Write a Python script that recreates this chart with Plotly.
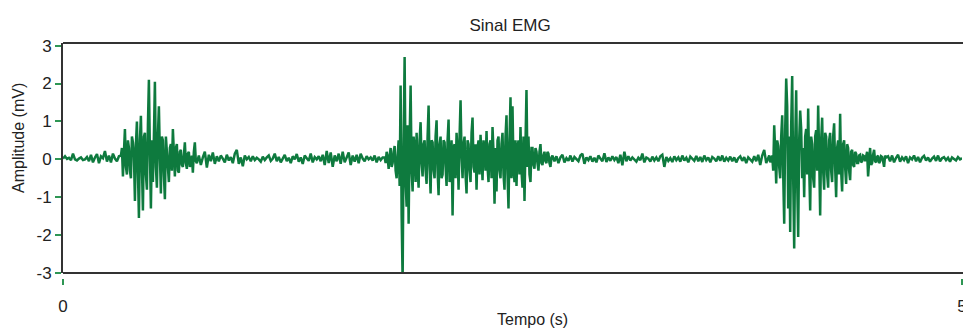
import numpy as np
import plotly.graph_objects as go

FS_REST = 90.0    # samples per second in the resting segments
FS_BURST = 180.0  # samples per second in the bursts

rest1 = [0.02, 0.08, 0.01, 0.04, -0.02, 0.15, 0.0, -0.03, 0.02, 0.05,
         -0.02, 0.0, 0.06, -0.05, 0.12, -0.08, 0.05, 0.14, -0.1, 0.08,
         0.03, 0.22, -0.06, 0.1, -0.08, 0.15, 0.02, -0.05, 0.08]

burst1 = [0.1, 0.3, -0.45, 0.2, 0.8, -0.2, -0.4, 0.5, 0.3, -0.3,
          -0.5, 0.6, 0.45, 0.1, -1.1, 0.4, 1.0, -0.3, -1.55, 0.5,
          1.15, -0.2, -1.35, 0.6, 0.7, -0.4, -0.8, 0.9, 2.1, 0.2,
          -1.3, 0.5, -0.6, 0.6, 2.05, -0.2, -0.75, 0.6, 1.4, 0.1,
          -0.9, 0.6, 0.5, -0.4, -1.05, 0.6, 0.3, -0.2, -0.6, 0.3,
          0.4, -0.3, 0.8, 0.1, -0.45, 0.3, 0.4, -0.3, -0.35, 0.2,
          0.25, -0.15, -0.2, 0.1, 0.45, -0.1, -0.25, 0.15, 0.2, -0.2,
          -0.1, 0.1, -0.35, 0.2, 0.45, -0.05, -0.1]

rest2 = [0.1, -0.15, 0.05, 0.2, -0.22, 0.12, -0.05, 0.18, -0.12, 0.08,
         -0.05, 0.1, 0.02, -0.08, 0.12, -0.03, 0.06, -0.1, 0.15, 0.25,
         -0.12, 0.05, -0.18, 0.1, 0.0, 0.06, -0.05, 0.08, -0.02, 0.04,
         0.0, -0.06, 0.07, -0.02, 0.05, 0.1, -0.04, 0.02, 0.15, -0.05,
         0.06, -0.08, 0.02, 0.12, -0.05, 0.04, -0.1, 0.08, 0.0, 0.14,
         -0.06, 0.05, -0.12, 0.1, 0.03, -0.04, 0.15, -0.08, 0.06, 0.0,
         0.08, -0.05, 0.12, -0.15, 0.22, -0.1, 0.18, -0.2, 0.1, -0.05,
         0.15, -0.12, 0.2, -0.08, 0.05, 0.18, -0.15, 0.1, -0.06, 0.12,
         -0.1, 0.15, 0.02, -0.05, 0.08, 0.0, 0.05, -0.03, 0.1, -0.08,
         0.06, -0.02, 0.05]

burst2 = [0.05, -0.1, 0.2, 0.05, -0.25, 0.1, 0.3, -0.2, -0.1, 0.2,
          0.35, -0.3, -0.5, 0.1, 0.5, -0.7, 1.95, -1.45, -3.2, 0.4,
          2.7, -0.6, -1.25, 0.9, -1.7, 0.5, 1.95, -0.3, -0.85, 0.6,
          0.3, -0.6, 0.7, -0.2, -0.75, 0.5, 0.98, -0.1, -0.45, 0.4,
          0.5, -0.3, -0.65, 0.6, 1.42, -0.2, -0.9, 0.5, 0.45, -0.3,
          -0.5, 0.6, 1.03, -0.3, -0.95, 0.4, 0.6, -0.5, -0.4, 0.5,
          0.45, -0.2, -0.7, 0.5, 1.05, -0.6, -0.3, 0.5, -1.48, 0.3,
          0.4, -0.5, 0.7, 0.2, -0.8, 0.6, 1.56, 0.1, -0.5, 0.4,
          0.6, -0.4, -0.9, 0.5, 0.4, -0.3, -0.6, 0.7, 1.1, -0.2,
          -0.35, 0.4, -0.8, 0.3, 0.5, -0.4, 0.65, 0.1, -0.55, 0.5,
          0.3, -0.3, 0.75, -0.2, -0.6, 0.4, 0.5, -0.5, 0.85, 0.2,
          -1.17, 0.3, -0.85, 0.5, 0.6, -0.3, -0.5, 0.4, 0.7, -0.4,
          -0.8, 0.6, 1.16, -0.4, -1.3, 0.5, 1.64, -0.5, 1.4, -0.2,
          -0.6, 0.5, -0.7, 0.3, 0.5, -0.4, 0.85, -0.3, -0.75, 0.6,
          -1.1, 0.4, 1.83, -0.2, 0.6, -0.4, -0.6, 0.3, 0.3, -0.15,
          -0.25, 0.3, 0.2, -0.1, -0.3, 0.2, 0.4, -0.1, -0.15, 0.1,
          0.2, -0.05, -0.1, 0.2, 0.15, -0.1, -0.2, 0.05, 0.1]

rest3 = [-0.05, 0.08, -0.1, 0.05, 0.12, -0.08, 0.03, -0.04, 0.1, -0.06,
         0.06, 0.0, -0.05, 0.1, 0.15, -0.12, 0.05, -0.02, 0.08, -0.06,
         0.04, -0.08, 0.1, 0.02, -0.05, 0.16, -0.07, 0.05, -0.04, 0.08,
         -0.02, 0.06, -0.1, 0.12, -0.16, 0.2, -0.05, 0.08, -0.03, 0.05,
         0.0, -0.06, 0.04, -0.02, 0.15, -0.08, 0.05, 0.02, -0.06, 0.07,
         -0.03, 0.05, -0.05, 0.08, 0.12, -0.2, 0.06, -0.04, 0.03, -0.07,
         0.08, -0.02, 0.05, -0.06, 0.1, -0.03, 0.04, -0.08, 0.07, 0.0,
         -0.04, 0.09, -0.05, 0.06, -0.07, 0.1, -0.02, 0.05, -0.08, 0.06,
         0.02, -0.05, 0.08, -0.04, 0.1, -0.06, 0.04, -0.03, 0.07, -0.05,
         0.05, -0.08, 0.03, 0.08, -0.04, 0.06, -0.1, 0.05, 0.0, -0.06,
         0.08, -0.05, 0.12, -0.15, 0.1, 0.25, -0.1]

burst3 = [0.05, 0.1, -0.08, 0.05, 0.1, -0.3, 0.9, 0.2, -0.64, 0.5,
          0.35, -0.2, -0.5, 0.6, 1.16, -0.4, -1.7, 0.8, 2.13, 1.4,
          -1.3, 0.6, -1.92, 0.9, 2.2, -0.5, -2.35, 0.4, 1.82, -0.6,
          -2.05, 0.5, 1.29, 0.8, -0.5, 0.3, -1.0, 0.6, 0.8, -0.4,
          1.34, -0.2, -1.35, 0.6, 0.4, -0.5, -0.75, 0.6, 0.77, -0.3,
          1.42, 0.1, -1.48, 0.5, 1.1, -0.3, -0.8, 0.7, 0.6, -0.4,
          -0.75, 0.5, 0.7, -0.3, -0.6, 0.6, 0.95, -0.2, -1.0, 0.3,
          0.5, -0.4, 1.2, -0.3, -0.85, 0.4, 0.5, -0.2, -0.65, 0.4,
          0.3, -0.3, -0.55, 0.2, 0.25, -0.15, -0.2, 0.2, 0.15, -0.1,
          -0.1, 0.1, 0.12, -0.08, -0.05, 0.1, 0.08, -0.05, 0.1, 0.2,
          -0.45, 0.1, 0.3, -0.15, -0.1, 0.12, 0.25, -0.05, -0.08, 0.06,
          0.1, -0.1, -0.05, 0.08, 0.06, -0.05, -0.2, 0.1, 0.05]

rest4 = [0.08, -0.05, 0.1, -0.08, 0.04, 0.12, -0.06, 0.05, -0.02, 0.08,
         -0.1, 0.05, 0.0, 0.1, -0.05, 0.06, -0.08, 0.04, 0.09, -0.03,
         0.05, -0.06, 0.02, 0.07, -0.04, 0.1, -0.05, 0.03, 0.06, -0.02,
         0.04, -0.06, 0.05, 0.02, -0.03, 0.06, 0.0, 0.03]

# segment order with its sampling rate
segments = [(rest1, FS_REST), (burst1, FS_BURST), (rest2, FS_REST),
            (burst2, FS_BURST), (rest3, FS_REST), (burst3, FS_BURST),
            (rest4, FS_REST)]

x_tick_vals = [0, 5]
x_tick_text = ["0", "5"]
y_tick_vals = [-3, -2, -1, 0, 1, 2, 3]
y_tick_text = ["-3", "-2", "-1", "0", "1", "2", "3"]

# sample times: each segment starts one rest-sample after the previous one
tempo, amplitude = [], []
t0 = 0.0
for vals, fs in segments:
    for k, v in enumerate(vals):
        tempo.append(t0 + k / fs)
        amplitude.append(v)
    t0 = tempo[-1] + 1.0 / FS_REST

LINE_GREEN = "rgb(14,122,62)"
TICK_GREEN = "rgb(46,150,84)"
FRAME = "#333333"
TEXT = "#222222"
FONT = "Liberation Sans, Arial, sans-serif"

fig = go.Figure()
fig.add_trace(go.Scatter(x=tempo, y=amplitude, mode="lines",
                         line=dict(color=LINE_GREEN, width=2.5),
                         showlegend=False, hoverinfo="skip"))

W, H = 963, 329
ML, MR, MT, MB = 63, 1, 43, 45
plot_h = H - MT - MB
y_dom_bottom = (H - MB - 273) / plot_h
x_pos = (H - MB - 278) / plot_h

fig.update_layout(
    width=W, height=H,
    margin=dict(l=ML, r=MR, t=MT, b=MB, autoexpand=False),
    paper_bgcolor="white", plot_bgcolor="white",
    font=dict(family=FONT, color=TEXT, size=16),
    title=dict(text="Sinal EMG", x=510 / W, xanchor="center",
               y=1 - 25 / H, yanchor="middle",
               font=dict(family=FONT, size=17, color=TEXT)),
    xaxis=dict(range=[0, 5], domain=[0, 1], anchor="free", position=x_pos,
               automargin=False,
               showgrid=False, zeroline=False, showline=False,
               ticks="outside", ticklen=6, tickwidth=1.5, tickcolor=TICK_GREEN,
               tickvals=x_tick_vals, ticktext=x_tick_text,
               ticklabelstandoff=7, ticklabeloverflow="allow",
               tickfont=dict(size=17)),
    yaxis=dict(range=[-3, 3.07], domain=[y_dom_bottom, 1],
               automargin=False,
               showgrid=False, zeroline=False,
               showline=True, linecolor=FRAME, linewidth=2,
               ticks="outside", ticklen=6, tickwidth=1.5, tickcolor=TICK_GREEN,
               tickvals=y_tick_vals, ticktext=y_tick_text,
               tickfont=dict(size=17)),
    shapes=[
        dict(type="line", xref="paper", yref="y domain", x0=0, x1=1.01,
             y0=1, y1=1, line=dict(color=FRAME, width=2)),
        dict(type="line", xref="paper", yref="y domain", x0=0, x1=1.01,
             y0=0, y1=0, line=dict(color=FRAME, width=2)),
    ],
    annotations=[
        dict(text="Amplitude (mV)", xref="paper", yref="paper",
             x=(18 - ML) / (W - ML - MR), y=(H - MB - 138) / plot_h,
             xanchor="center", yanchor="middle", textangle=-90,
             showarrow=False, font=dict(family=FONT, size=16, color=TEXT)),
        dict(text="Tempo (s)", xref="paper", yref="paper",
             x=(532 - ML) / (W - ML - MR), y=(H - MB - 319) / plot_h,
             xanchor="center", yanchor="middle",
             showarrow=False, font=dict(family=FONT, size=16, color=TEXT)),
    ],
)

fig.write_html("out.html")
